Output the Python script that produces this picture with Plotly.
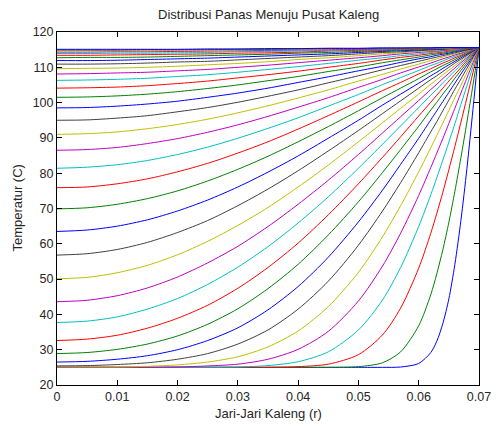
import plotly.graph_objects as go

# radial positions (m)
r_values = [0, 0.005, 0.01, 0.015, 0.02, 0.025, 0.03, 0.035, 0.04, 0.045, 0.05, 0.054, 0.057,
            0.06, 0.062, 0.063, 0.064, 0.065, 0.066, 0.067, 0.068, 0.069, 0.07]

# temperature profiles (C), one list per time step
curve_01 = [25, 25, 25, 25, 25, 25, 25, 25, 25, 25, 25, 25, 25.1, 26.1, 29.2, 32.4, 37.4, 44.4, 54.2, 66.6, 81.4, 98.1, 115.6]
curve_02 = [25, 25, 25, 25, 25, 25, 25, 25, 25, 25, 25.2, 26.3, 29.4, 36.8, 45.6, 51.5, 58.3, 66.1, 74.9, 84.4, 94.5, 105.0, 115.6]
curve_03 = [25, 25, 25, 25, 25, 25, 25, 25, 25.2, 25.9, 28.6, 34.2, 41.8, 53.1, 63.0, 68.6, 74.6, 81.0, 87.6, 94.4, 101.4, 108.5, 115.6]
curve_04 = [25, 25, 25, 25, 25, 25, 25.1, 25.5, 26.6, 29.4, 35.6, 44.1, 53.3, 64.9, 73.9, 78.7, 83.7, 88.8, 94.0, 99.5, 104.8, 110.2, 115.6]
curve_05 = [25, 25, 25, 25, 25.1, 25.4, 25.9, 27.3, 30.1, 35.2, 43.8, 53.7, 63.0, 73.7, 81.6, 85.7, 89.8, 94.1, 98.4, 102.7, 107.0, 111.3, 115.6]
curve_06 = [25.1, 25.1, 25.1, 25.3, 25.7, 26.5, 28.0, 30.8, 35.3, 42.2, 51.9, 62.0, 70.8, 80.4, 87.2, 90.7, 94.2, 97.8, 101.4, 104.9, 108.5, 112.1, 115.6]
curve_07 = [25.4, 25.5, 25.8, 26.3, 27.3, 28.9, 31.6, 35.6, 41.5, 49.4, 59.6, 69.3, 77.3, 85.8, 91.7, 94.6, 97.7, 100.7, 103.8, 106.7, 109.7, 112.7, 115.6]
curve_08 = [26.5, 26.7, 27.3, 28.3, 30.0, 32.6, 36.2, 41.3, 47.9, 56.2, 66.2, 75.2, 82.5, 89.9, 95.1, 97.7, 100.3, 102.9, 105.5, 108.1, 110.6, 113.1, 115.6]
curve_09 = [28.9, 29.2, 30.1, 31.6, 33.9, 37.2, 41.6, 47.3, 54.2, 62.5, 71.9, 80.2, 86.7, 93.3, 97.9, 100.1, 102.4, 104.6, 106.9, 109.1, 111.3, 113.5, 115.6]
curve_10 = [32.6, 33.0, 34.1, 36.1, 38.9, 42.6, 47.4, 53.3, 60.2, 68.2, 77.0, 84.5, 90.3, 96.2, 100.1, 102.1, 104.1, 106.1, 108.0, 109.9, 111.9, 113.7, 115.6]
curve_11 = [37.7, 38.1, 39.3, 41.5, 44.5, 48.5, 53.4, 59.2, 65.9, 73.3, 81.4, 88.2, 93.4, 98.6, 102.1, 103.8, 105.6, 107.3, 109.0, 110.7, 112.3, 114.0, 115.6]
curve_12 = [43.6, 44.0, 45.3, 47.5, 50.6, 54.6, 59.3, 64.9, 71.2, 78.0, 85.3, 91.4, 96.0, 100.6, 103.7, 105.2, 106.8, 108.3, 109.8, 111.3, 112.7, 114.2, 115.6]
curve_13 = [50.1, 50.5, 51.8, 53.9, 56.9, 60.7, 65.2, 70.3, 76.1, 82.3, 88.9, 94.3, 98.4, 102.4, 105.2, 106.5, 107.9, 109.2, 110.5, 111.8, 113.1, 114.4, 115.6]
curve_14 = [56.8, 57.2, 58.4, 60.4, 63.2, 66.6, 70.8, 75.5, 80.7, 86.3, 92.1, 96.9, 100.5, 104.1, 106.5, 107.6, 108.8, 110.0, 111.2, 112.3, 113.4, 114.5, 115.6]
curve_15 = [63.5, 63.9, 65.0, 66.8, 69.3, 72.4, 76.1, 80.3, 84.9, 89.9, 95.0, 99.3, 102.4, 105.5, 107.6, 108.6, 109.7, 110.7, 111.7, 112.7, 113.7, 114.6, 115.6]
curve_16 = [69.9, 70.2, 71.2, 72.8, 75.0, 77.8, 81.1, 84.8, 88.9, 93.2, 97.7, 101.4, 104.1, 106.8, 108.7, 109.6, 110.5, 111.3, 112.2, 113.1, 113.9, 114.8, 115.6]
curve_17 = [75.9, 76.1, 77.0, 78.4, 80.4, 82.8, 85.7, 88.9, 92.5, 96.3, 100.2, 103.4, 105.7, 108.1, 109.6, 110.4, 111.2, 111.9, 112.7, 113.4, 114.2, 114.9, 115.6]
curve_18 = [81.4, 81.7, 82.4, 83.6, 85.3, 87.4, 89.9, 92.7, 95.7, 99.0, 102.3, 105.1, 107.1, 109.1, 110.5, 111.1, 111.8, 112.5, 113.1, 113.8, 114.4, 115.0, 115.6]
curve_19 = [86.5, 86.7, 87.3, 88.4, 89.8, 91.6, 93.7, 96.1, 98.7, 101.4, 104.3, 106.6, 108.4, 110.1, 111.2, 111.8, 112.4, 112.9, 113.5, 114.0, 114.6, 115.1, 115.6]
curve_20 = [91.0, 91.2, 91.7, 92.6, 93.8, 95.3, 97.1, 99.1, 101.3, 103.6, 106.1, 108.0, 109.5, 110.9, 111.9, 112.4, 112.9, 113.4, 113.8, 114.3, 114.7, 115.2, 115.6]
curve_21 = [95.0, 95.1, 95.6, 96.3, 97.4, 98.6, 100.1, 101.8, 103.6, 105.6, 107.6, 109.3, 110.5, 111.7, 112.5, 112.9, 113.3, 113.7, 114.1, 114.5, 114.9, 115.2, 115.6]
curve_22 = [98.5, 98.6, 99.0, 99.6, 100.4, 101.5, 102.7, 104.1, 105.7, 107.3, 109.0, 110.3, 111.4, 112.4, 113.0, 113.4, 113.7, 114.0, 114.4, 114.7, 115.0, 115.3, 115.6]
curve_23 = [101.5, 101.6, 101.9, 102.4, 103.1, 104.0, 105.0, 106.2, 107.4, 108.8, 110.1, 111.3, 112.1, 112.9, 113.5, 113.8, 114.0, 114.3, 114.6, 114.9, 115.1, 115.4, 115.6]
curve_24 = [104.1, 104.2, 104.4, 104.8, 105.4, 106.1, 107.0, 107.9, 108.9, 110.0, 111.1, 112.1, 112.8, 113.4, 113.9, 114.1, 114.3, 114.6, 114.8, 115.0, 115.2, 115.4, 115.6]
curve_25 = [106.3, 106.4, 106.6, 106.9, 107.4, 107.9, 108.6, 109.4, 110.2, 111.1, 112.0, 112.7, 113.3, 113.8, 114.2, 114.4, 114.6, 114.8, 114.9, 115.1, 115.3, 115.5, 115.6]
curve_26 = [108.1, 108.2, 108.4, 108.6, 109.0, 109.4, 110.0, 110.6, 111.3, 112.0, 112.7, 113.3, 113.8, 114.2, 114.5, 114.6, 114.8, 114.9, 115.1, 115.2, 115.4, 115.5, 115.6]
curve_27 = [109.6, 109.7, 109.8, 110.0, 110.3, 110.7, 111.1, 111.6, 112.2, 112.7, 113.3, 113.8, 114.1, 114.5, 114.7, 114.8, 115.0, 115.1, 115.2, 115.3, 115.4, 115.5, 115.6]
curve_28 = [110.9, 110.9, 111.0, 111.2, 111.5, 111.7, 112.1, 112.5, 112.9, 113.3, 113.8, 114.2, 114.4, 114.7, 114.9, 115.0, 115.1, 115.2, 115.3, 115.4, 115.5, 115.5, 115.6]
curve_29 = [111.9, 111.9, 112.0, 112.2, 112.4, 112.6, 112.9, 113.2, 113.5, 113.8, 114.2, 114.5, 114.7, 114.9, 115.1, 115.1, 115.2, 115.3, 115.4, 115.4, 115.5, 115.5, 115.6]
curve_30 = [112.7, 112.8, 112.8, 112.9, 113.1, 113.3, 113.5, 113.7, 114.0, 114.2, 114.5, 114.7, 114.9, 115.1, 115.2, 115.3, 115.3, 115.4, 115.4, 115.5, 115.5, 115.6, 115.6]
curve_31 = [113.4, 113.4, 113.5, 113.6, 113.7, 113.8, 114.0, 114.1, 114.3, 114.6, 114.8, 114.9, 115.1, 115.2, 115.3, 115.3, 115.4, 115.4, 115.5, 115.5, 115.5, 115.6, 115.6]
curve_32 = [113.9, 113.9, 114.0, 114.0, 114.1, 114.2, 114.4, 114.5, 114.6, 114.8, 115.0, 115.1, 115.2, 115.3, 115.4, 115.4, 115.4, 115.5, 115.5, 115.5, 115.6, 115.6, 115.6]
curve_33 = [114.3, 114.3, 114.4, 114.4, 114.5, 114.6, 114.7, 114.8, 114.9, 115.0, 115.1, 115.2, 115.3, 115.4, 115.4, 115.5, 115.5, 115.5, 115.5, 115.6, 115.6, 115.6, 115.6]
curve_34 = [114.6, 114.7, 114.7, 114.7, 114.8, 114.8, 114.9, 115.0, 115.1, 115.2, 115.3, 115.3, 115.4, 115.4, 115.5, 115.5, 115.5, 115.5, 115.6, 115.6, 115.6, 115.6, 115.6]
curve_35 = [114.9, 114.9, 114.9, 115.0, 115.0, 115.0, 115.1, 115.1, 115.2, 115.3, 115.3, 115.4, 115.4, 115.5, 115.5, 115.5, 115.5, 115.6, 115.6, 115.6, 115.6, 115.6, 115.6]
curve_36 = [115.1, 115.1, 115.1, 115.1, 115.1, 115.2, 115.2, 115.3, 115.3, 115.4, 115.4, 115.5, 115.5, 115.5, 115.5, 115.6, 115.6, 115.6, 115.6, 115.6, 115.6, 115.6, 115.6]

# MATLAB classic color order: b g r c m y k
color_cycle = ["#0000FF", "#008000", "#FF0000", "#00BFBF", "#BF00BF", "#BFBF00", "#404040"]

x_ticks = [0, 0.01, 0.02, 0.03, 0.04, 0.05, 0.06, 0.07]
x_tick_labels = ["0", "0.01", "0.02", "0.03", "0.04", "0.05", "0.06", "0.07"]
y_ticks = [20, 30, 40, 50, 60, 70, 80, 90, 100, 110, 120]

curves = [curve_01, curve_02, curve_03, curve_04, curve_05, curve_06, curve_07, curve_08,
          curve_09, curve_10, curve_11, curve_12, curve_13, curve_14, curve_15, curve_16,
          curve_17, curve_18, curve_19, curve_20, curve_21, curve_22, curve_23, curve_24,
          curve_25, curve_26, curve_27, curve_28, curve_29, curve_30, curve_31, curve_32,
          curve_33, curve_34, curve_35, curve_36]

font_family = "Liberation Sans, Arial, Helvetica, sans-serif"
text_color = "#262626"

fig = go.Figure()
for i, temps in enumerate(curves):
    fig.add_trace(go.Scatter(
        x=r_values, y=temps, mode="lines",
        line=dict(color=color_cycle[i % len(color_cycle)], width=1, shape="spline", smoothing=0.8),
        showlegend=False, hoverinfo="skip",
    ))

axis_common = dict(
    showgrid=False, zeroline=False, showline=True, linecolor="#000000", linewidth=1,
    mirror="allticks", ticks="inside", ticklen=5, tickcolor="#000000", tickwidth=1,
    ticklabeloverflow="allow",
    tickfont=dict(family=font_family, size=12.5, color=text_color),
)

# page body adds an 8px offset, so the figure is sized to end at the window edge
fig.update_layout(
    width=495, height=418,
    margin=dict(l=49, r=13, t=24, b=41),
    paper_bgcolor="#FFFFFF", plot_bgcolor="#FFFFFF",
    xaxis=dict(range=[0, 0.07], tickvals=x_ticks, ticktext=x_tick_labels, **axis_common),
    yaxis=dict(range=[20, 120], tickvals=y_ticks, **axis_common),
    annotations=[
        dict(text="Distribusi Panas Menuju Pusat Kaleng", xref="paper", yref="paper",
             x=0.5, y=1, yanchor="bottom", yshift=8, showarrow=False,
             font=dict(family=font_family, size=13, color=text_color)),
        dict(text="Jari-Jari Kaleng (r)", xref="paper", yref="paper",
             x=0.5, y=0, yanchor="top", yshift=-19, showarrow=False,
             font=dict(family=font_family, size=13, color=text_color)),
        dict(text="Temperatur (C)", xref="paper", yref="paper",
             x=0, y=0.5, xanchor="center", yanchor="middle", xshift=-40, textangle=-90,
             showarrow=False, font=dict(family=font_family, size=13, color=text_color)),
    ],
)

fig.write_html("out.html")
